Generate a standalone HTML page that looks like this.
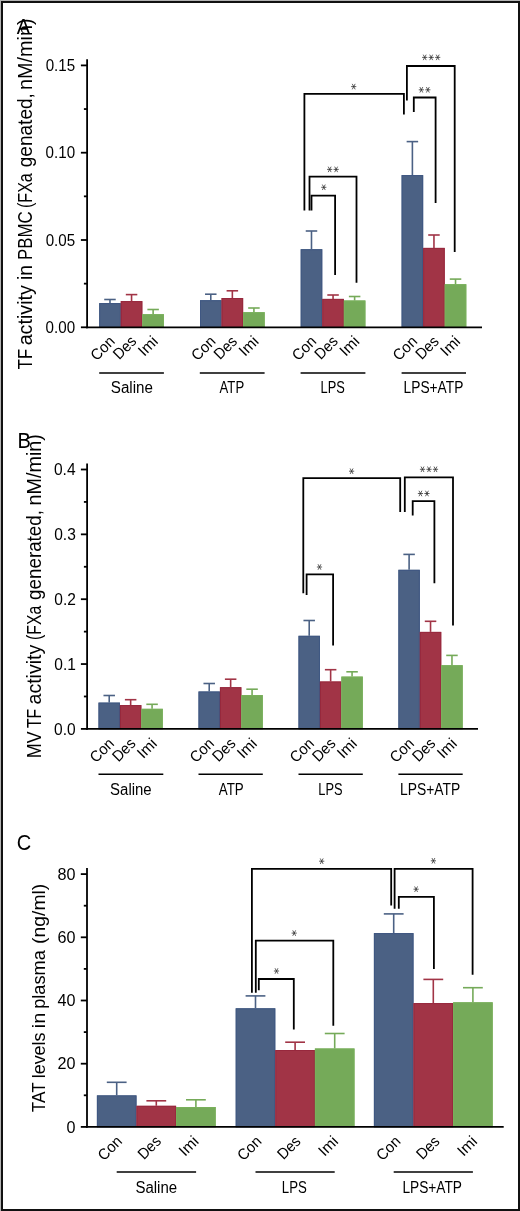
<!DOCTYPE html>
<html><head><meta charset="utf-8"><style>
html,body{margin:0;padding:0;background:#fff;}
body{width:520px;height:1211px;overflow:hidden;position:relative;}
svg{position:absolute;left:0;top:0;will-change:transform;}
text{font-family:"Liberation Sans", sans-serif;fill:#000;}

</style></head><body>
<svg width="520" height="1211" viewBox="0 0 520 1211">
<rect x="0" y="0" width="520" height="1" fill="#b4b4b4"/>
<rect x="0" y="0" width="1" height="1211" fill="#b4b4b4"/>
<rect x="2" y="2" width="517" height="1208" fill="none" stroke="#111" stroke-width="2"/>
<line x1="80.90" y1="327.30" x2="87.10" y2="327.30" stroke="#000" stroke-width="1.8"/>
<text x="45.60" y="332.90" font-size="15.7" text-anchor="start" textLength="29.49" lengthAdjust="spacingAndGlyphs">0.00</text>
<line x1="80.90" y1="240.00" x2="87.10" y2="240.00" stroke="#000" stroke-width="1.8"/>
<text x="45.65" y="245.60" font-size="15.7" text-anchor="start" textLength="29.49" lengthAdjust="spacingAndGlyphs">0.05</text>
<line x1="80.90" y1="152.70" x2="87.10" y2="152.70" stroke="#000" stroke-width="1.8"/>
<text x="45.60" y="158.30" font-size="15.7" text-anchor="start" textLength="29.49" lengthAdjust="spacingAndGlyphs">0.10</text>
<line x1="80.90" y1="65.40" x2="87.10" y2="65.40" stroke="#000" stroke-width="1.8"/>
<text x="45.65" y="71.00" font-size="15.7" text-anchor="start" textLength="29.49" lengthAdjust="spacingAndGlyphs">0.15</text>
<line x1="83.90" y1="283.65" x2="87.10" y2="283.65" stroke="#000" stroke-width="1.8"/>
<line x1="83.90" y1="196.35" x2="87.10" y2="196.35" stroke="#000" stroke-width="1.8"/>
<line x1="83.90" y1="109.05" x2="87.10" y2="109.05" stroke="#000" stroke-width="1.8"/>
<rect x="99.20" y="303.10" width="21.57" height="24.20" fill="#4b6184"/>
<rect x="99.70" y="303.60" width="20.57" height="23.70" fill="none" stroke="#3f5782" stroke-width="1"/>
<line x1="109.98" y1="299.50" x2="109.98" y2="303.10" stroke="#4b6184" stroke-width="1.6"/>
<line x1="104.23" y1="299.50" x2="115.73" y2="299.50" stroke="#4b6184" stroke-width="1.6"/>
<rect x="120.77" y="301.10" width="21.57" height="26.20" fill="#a13446"/>
<rect x="121.27" y="301.60" width="20.57" height="25.70" fill="none" stroke="#97283d" stroke-width="1"/>
<line x1="131.56" y1="294.60" x2="131.56" y2="301.10" stroke="#a13446" stroke-width="1.6"/>
<line x1="125.81" y1="294.60" x2="137.31" y2="294.60" stroke="#a13446" stroke-width="1.6"/>
<rect x="142.34" y="314.20" width="21.57" height="13.10" fill="#75aa59"/>
<rect x="142.84" y="314.70" width="20.57" height="12.60" fill="none" stroke="#79b05b" stroke-width="1"/>
<line x1="153.12" y1="309.50" x2="153.12" y2="314.20" stroke="#75aa59" stroke-width="1.6"/>
<line x1="147.38" y1="309.50" x2="158.88" y2="309.50" stroke="#75aa59" stroke-width="1.6"/>
<text x="115.78" y="342.30" font-size="15.5" text-anchor="end" textLength="27" lengthAdjust="spacingAndGlyphs" transform="rotate(-45 115.78 342.30)">Con</text>
<text x="137.36" y="342.30" font-size="15.5" text-anchor="end" textLength="25.5" lengthAdjust="spacingAndGlyphs" transform="rotate(-45 137.36 342.30)">Des</text>
<text x="158.93" y="342.30" font-size="15.5" text-anchor="end" textLength="20.8" lengthAdjust="spacingAndGlyphs" transform="rotate(-45 158.93 342.30)">Imi</text>
<line x1="99.20" y1="373.10" x2="163.90" y2="373.10" stroke="#000" stroke-width="1.5"/>
<text x="110.81" y="392.60" font-size="16" text-anchor="start" textLength="42.16" lengthAdjust="spacingAndGlyphs">Saline</text>
<rect x="200.00" y="300.20" width="21.57" height="27.10" fill="#4b6184"/>
<rect x="200.50" y="300.70" width="20.57" height="26.60" fill="none" stroke="#3f5782" stroke-width="1"/>
<line x1="210.78" y1="294.20" x2="210.78" y2="300.20" stroke="#4b6184" stroke-width="1.6"/>
<line x1="205.03" y1="294.20" x2="216.53" y2="294.20" stroke="#4b6184" stroke-width="1.6"/>
<rect x="221.57" y="298.00" width="21.57" height="29.30" fill="#a13446"/>
<rect x="222.07" y="298.50" width="20.57" height="28.80" fill="none" stroke="#97283d" stroke-width="1"/>
<line x1="232.35" y1="290.80" x2="232.35" y2="298.00" stroke="#a13446" stroke-width="1.6"/>
<line x1="226.60" y1="290.80" x2="238.10" y2="290.80" stroke="#a13446" stroke-width="1.6"/>
<rect x="243.14" y="312.20" width="21.57" height="15.10" fill="#75aa59"/>
<rect x="243.64" y="312.70" width="20.57" height="14.60" fill="none" stroke="#79b05b" stroke-width="1"/>
<line x1="253.92" y1="308.00" x2="253.92" y2="312.20" stroke="#75aa59" stroke-width="1.6"/>
<line x1="248.17" y1="308.00" x2="259.67" y2="308.00" stroke="#75aa59" stroke-width="1.6"/>
<text x="216.59" y="342.30" font-size="15.5" text-anchor="end" textLength="27" lengthAdjust="spacingAndGlyphs" transform="rotate(-45 216.59 342.30)">Con</text>
<text x="238.16" y="342.30" font-size="15.5" text-anchor="end" textLength="25.5" lengthAdjust="spacingAndGlyphs" transform="rotate(-45 238.16 342.30)">Des</text>
<text x="259.72" y="342.30" font-size="15.5" text-anchor="end" textLength="20.8" lengthAdjust="spacingAndGlyphs" transform="rotate(-45 259.72 342.30)">Imi</text>
<line x1="199.80" y1="373.10" x2="264.60" y2="373.10" stroke="#000" stroke-width="1.5"/>
<text x="219.58" y="392.60" font-size="16" text-anchor="start" textLength="24.59" lengthAdjust="spacingAndGlyphs">ATP</text>
<rect x="300.70" y="249.20" width="21.57" height="78.10" fill="#4b6184"/>
<rect x="301.20" y="249.70" width="20.57" height="77.60" fill="none" stroke="#3f5782" stroke-width="1"/>
<line x1="311.49" y1="231.00" x2="311.49" y2="249.20" stroke="#4b6184" stroke-width="1.6"/>
<line x1="305.74" y1="231.00" x2="317.24" y2="231.00" stroke="#4b6184" stroke-width="1.6"/>
<rect x="322.27" y="298.90" width="21.57" height="28.40" fill="#a13446"/>
<rect x="322.77" y="299.40" width="20.57" height="27.90" fill="none" stroke="#97283d" stroke-width="1"/>
<line x1="333.06" y1="295.00" x2="333.06" y2="298.90" stroke="#a13446" stroke-width="1.6"/>
<line x1="327.31" y1="295.00" x2="338.81" y2="295.00" stroke="#a13446" stroke-width="1.6"/>
<rect x="343.84" y="300.50" width="21.57" height="26.80" fill="#75aa59"/>
<rect x="344.34" y="301.00" width="20.57" height="26.30" fill="none" stroke="#79b05b" stroke-width="1"/>
<line x1="354.62" y1="296.50" x2="354.62" y2="300.50" stroke="#75aa59" stroke-width="1.6"/>
<line x1="348.88" y1="296.50" x2="360.38" y2="296.50" stroke="#75aa59" stroke-width="1.6"/>
<text x="317.29" y="342.30" font-size="15.5" text-anchor="end" textLength="27" lengthAdjust="spacingAndGlyphs" transform="rotate(-45 317.29 342.30)">Con</text>
<text x="338.86" y="342.30" font-size="15.5" text-anchor="end" textLength="25.5" lengthAdjust="spacingAndGlyphs" transform="rotate(-45 338.86 342.30)">Des</text>
<text x="360.43" y="342.30" font-size="15.5" text-anchor="end" textLength="20.8" lengthAdjust="spacingAndGlyphs" transform="rotate(-45 360.43 342.30)">Imi</text>
<line x1="300.60" y1="373.10" x2="365.40" y2="373.10" stroke="#000" stroke-width="1.5"/>
<text x="320.55" y="392.60" font-size="16" text-anchor="start" textLength="24.24" lengthAdjust="spacingAndGlyphs">LPS</text>
<rect x="401.60" y="175.10" width="21.57" height="152.20" fill="#4b6184"/>
<rect x="402.10" y="175.60" width="20.57" height="151.70" fill="none" stroke="#3f5782" stroke-width="1"/>
<line x1="412.39" y1="141.60" x2="412.39" y2="175.10" stroke="#4b6184" stroke-width="1.6"/>
<line x1="406.64" y1="141.60" x2="418.14" y2="141.60" stroke="#4b6184" stroke-width="1.6"/>
<rect x="423.17" y="247.90" width="21.57" height="79.40" fill="#a13446"/>
<rect x="423.67" y="248.40" width="20.57" height="78.90" fill="none" stroke="#97283d" stroke-width="1"/>
<line x1="433.96" y1="235.00" x2="433.96" y2="247.90" stroke="#a13446" stroke-width="1.6"/>
<line x1="428.21" y1="235.00" x2="439.71" y2="235.00" stroke="#a13446" stroke-width="1.6"/>
<rect x="444.74" y="284.20" width="21.57" height="43.10" fill="#75aa59"/>
<rect x="445.24" y="284.70" width="20.57" height="42.60" fill="none" stroke="#79b05b" stroke-width="1"/>
<line x1="455.53" y1="279.10" x2="455.53" y2="284.20" stroke="#75aa59" stroke-width="1.6"/>
<line x1="449.78" y1="279.10" x2="461.28" y2="279.10" stroke="#75aa59" stroke-width="1.6"/>
<text x="418.19" y="342.30" font-size="15.5" text-anchor="end" textLength="27" lengthAdjust="spacingAndGlyphs" transform="rotate(-45 418.19 342.30)">Con</text>
<text x="439.76" y="342.30" font-size="15.5" text-anchor="end" textLength="25.5" lengthAdjust="spacingAndGlyphs" transform="rotate(-45 439.76 342.30)">Des</text>
<text x="461.33" y="342.30" font-size="15.5" text-anchor="end" textLength="20.8" lengthAdjust="spacingAndGlyphs" transform="rotate(-45 461.33 342.30)">Imi</text>
<line x1="401.60" y1="373.10" x2="466.00" y2="373.10" stroke="#000" stroke-width="1.5"/>
<text x="403.59" y="392.60" font-size="16" text-anchor="start" textLength="59.72" lengthAdjust="spacingAndGlyphs">LPS+ATP</text>
<line x1="87.10" y1="59.20" x2="87.10" y2="328.20" stroke="#000" stroke-width="1.8"/>
<line x1="86.20" y1="327.30" x2="482.00" y2="327.30" stroke="#000" stroke-width="1.8"/>
<path d="M304.40,210.50L304.40,93.90L403.90,93.90L403.90,114.60" fill="none" stroke="#000" stroke-width="1.8"/>
<path d="M351.10,86.60L356.30,86.60M352.24,83.86L355.16,89.34M355.16,83.86L352.24,89.34" stroke="#2a2a2a" stroke-width="0.75" fill="none"/>
<path d="M309.50,210.50L309.50,176.60L356.50,176.60L356.50,282.80" fill="none" stroke="#000" stroke-width="1.8"/>
<path d="M327.05,169.40L332.25,169.40M328.19,166.66L331.11,172.14M331.11,166.66L328.19,172.14" stroke="#2a2a2a" stroke-width="0.75" fill="none"/>
<path d="M333.55,169.40L338.75,169.40M334.69,166.66L337.61,172.14M337.61,166.66L334.69,172.14" stroke="#2a2a2a" stroke-width="0.75" fill="none"/>
<path d="M311.50,210.50L311.50,195.60L335.10,195.60L335.10,274.90" fill="none" stroke="#000" stroke-width="1.8"/>
<path d="M321.20,187.30L326.40,187.30M322.34,184.56L325.26,190.04M325.26,184.56L322.34,190.04" stroke="#2a2a2a" stroke-width="0.75" fill="none"/>
<path d="M406.90,100.40L406.90,66.00L454.70,66.00L454.70,252.00" fill="none" stroke="#000" stroke-width="1.8"/>
<path d="M422.10,57.40L427.30,57.40M423.24,54.66L426.16,60.14M426.16,54.66L423.24,60.14" stroke="#2a2a2a" stroke-width="0.75" fill="none"/>
<path d="M428.60,57.40L433.80,57.40M429.74,54.66L432.66,60.14M432.66,54.66L429.74,60.14" stroke="#2a2a2a" stroke-width="0.75" fill="none"/>
<path d="M435.10,57.40L440.30,57.40M436.24,54.66L439.16,60.14M439.16,54.66L436.24,60.14" stroke="#2a2a2a" stroke-width="0.75" fill="none"/>
<path d="M413.80,111.90L413.80,97.50L435.60,97.50L435.60,203.00" fill="none" stroke="#000" stroke-width="1.8"/>
<path d="M418.75,89.80L423.95,89.80M419.89,87.06L422.81,92.54M422.81,87.06L419.89,92.54" stroke="#2a2a2a" stroke-width="0.75" fill="none"/>
<path d="M425.25,89.80L430.45,89.80M426.39,87.06L429.31,92.54M429.31,87.06L426.39,92.54" stroke="#2a2a2a" stroke-width="0.75" fill="none"/>
<g transform="rotate(-90)"><text x="-369.27" y="31.90" font-size="19.8" textLength="20.34" lengthAdjust="spacingAndGlyphs">TF</text><text x="-345.34" y="31.90" font-size="19.8" textLength="60.17" lengthAdjust="spacingAndGlyphs">activity</text><text x="-279.99" y="31.90" font-size="19.8" textLength="15.05" lengthAdjust="spacingAndGlyphs">in</text><text x="-260.08" y="31.90" font-size="19.8" textLength="48.73" lengthAdjust="spacingAndGlyphs">PBMC</text><text x="-207.99" y="31.90" font-size="19.8" textLength="34.74" lengthAdjust="spacingAndGlyphs">(FXa</text><text x="-167.30" y="31.90" font-size="19.8" textLength="74.21" lengthAdjust="spacingAndGlyphs">genated,</text><text x="-89.92" y="31.90" font-size="19.8" textLength="71.54" lengthAdjust="spacingAndGlyphs">nM/min)</text></g>
<text x="0" y="0" font-size="22.8" transform="translate(16.80 34.30) scale(0.88 1)">A</text>
<line x1="80.90" y1="728.90" x2="87.10" y2="728.90" stroke="#000" stroke-width="1.8"/>
<text x="54.10" y="734.50" font-size="15.7" text-anchor="start" textLength="21.61" lengthAdjust="spacingAndGlyphs">0.0</text>
<line x1="80.90" y1="664.05" x2="87.10" y2="664.05" stroke="#000" stroke-width="1.8"/>
<text x="54.25" y="669.65" font-size="15.7" text-anchor="start" textLength="21.61" lengthAdjust="spacingAndGlyphs">0.1</text>
<line x1="80.90" y1="599.20" x2="87.10" y2="599.20" stroke="#000" stroke-width="1.8"/>
<text x="54.27" y="604.80" font-size="15.7" text-anchor="start" textLength="21.61" lengthAdjust="spacingAndGlyphs">0.2</text>
<line x1="80.90" y1="534.35" x2="87.10" y2="534.35" stroke="#000" stroke-width="1.8"/>
<text x="54.18" y="539.95" font-size="15.7" text-anchor="start" textLength="21.61" lengthAdjust="spacingAndGlyphs">0.3</text>
<line x1="80.90" y1="469.50" x2="87.10" y2="469.50" stroke="#000" stroke-width="1.8"/>
<text x="53.95" y="475.10" font-size="15.7" text-anchor="start" textLength="21.61" lengthAdjust="spacingAndGlyphs">0.4</text>
<line x1="83.90" y1="696.48" x2="87.10" y2="696.48" stroke="#000" stroke-width="1.8"/>
<line x1="83.90" y1="631.62" x2="87.10" y2="631.62" stroke="#000" stroke-width="1.8"/>
<line x1="83.90" y1="566.77" x2="87.10" y2="566.77" stroke="#000" stroke-width="1.8"/>
<line x1="83.90" y1="501.93" x2="87.10" y2="501.93" stroke="#000" stroke-width="1.8"/>
<rect x="98.50" y="702.60" width="21.43" height="26.30" fill="#4b6184"/>
<rect x="99.00" y="703.10" width="20.43" height="25.80" fill="none" stroke="#3f5782" stroke-width="1"/>
<line x1="109.22" y1="695.50" x2="109.22" y2="702.60" stroke="#4b6184" stroke-width="1.6"/>
<line x1="103.47" y1="695.50" x2="114.97" y2="695.50" stroke="#4b6184" stroke-width="1.6"/>
<rect x="119.93" y="705.10" width="21.43" height="23.80" fill="#a13446"/>
<rect x="120.43" y="705.60" width="20.43" height="23.30" fill="none" stroke="#97283d" stroke-width="1"/>
<line x1="130.65" y1="699.70" x2="130.65" y2="705.10" stroke="#a13446" stroke-width="1.6"/>
<line x1="124.90" y1="699.70" x2="136.40" y2="699.70" stroke="#a13446" stroke-width="1.6"/>
<rect x="141.36" y="708.80" width="21.43" height="20.10" fill="#75aa59"/>
<rect x="141.86" y="709.30" width="20.43" height="19.60" fill="none" stroke="#79b05b" stroke-width="1"/>
<line x1="152.08" y1="704.30" x2="152.08" y2="708.80" stroke="#75aa59" stroke-width="1.6"/>
<line x1="146.33" y1="704.30" x2="157.83" y2="704.30" stroke="#75aa59" stroke-width="1.6"/>
<text x="115.12" y="744.50" font-size="15.5" text-anchor="end" textLength="27" lengthAdjust="spacingAndGlyphs" transform="rotate(-45 115.12 744.50)">Con</text>
<text x="136.55" y="744.50" font-size="15.5" text-anchor="end" textLength="25.5" lengthAdjust="spacingAndGlyphs" transform="rotate(-45 136.55 744.50)">Des</text>
<text x="157.98" y="744.50" font-size="15.5" text-anchor="end" textLength="20.8" lengthAdjust="spacingAndGlyphs" transform="rotate(-45 157.98 744.50)">Imi</text>
<line x1="98.50" y1="774.20" x2="163.30" y2="774.20" stroke="#000" stroke-width="1.5"/>
<text x="110.12" y="794.70" font-size="16" text-anchor="start" textLength="41.54" lengthAdjust="spacingAndGlyphs">Saline</text>
<rect x="198.50" y="691.50" width="21.43" height="37.40" fill="#4b6184"/>
<rect x="199.00" y="692.00" width="20.43" height="36.90" fill="none" stroke="#3f5782" stroke-width="1"/>
<line x1="209.22" y1="683.50" x2="209.22" y2="691.50" stroke="#4b6184" stroke-width="1.6"/>
<line x1="203.47" y1="683.50" x2="214.97" y2="683.50" stroke="#4b6184" stroke-width="1.6"/>
<rect x="219.93" y="687.20" width="21.43" height="41.70" fill="#a13446"/>
<rect x="220.43" y="687.70" width="20.43" height="41.20" fill="none" stroke="#97283d" stroke-width="1"/>
<line x1="230.65" y1="679.20" x2="230.65" y2="687.20" stroke="#a13446" stroke-width="1.6"/>
<line x1="224.90" y1="679.20" x2="236.40" y2="679.20" stroke="#a13446" stroke-width="1.6"/>
<rect x="241.36" y="695.10" width="21.43" height="33.80" fill="#75aa59"/>
<rect x="241.86" y="695.60" width="20.43" height="33.30" fill="none" stroke="#79b05b" stroke-width="1"/>
<line x1="252.08" y1="689.20" x2="252.08" y2="695.10" stroke="#75aa59" stroke-width="1.6"/>
<line x1="246.33" y1="689.20" x2="257.83" y2="689.20" stroke="#75aa59" stroke-width="1.6"/>
<text x="215.12" y="744.50" font-size="15.5" text-anchor="end" textLength="27" lengthAdjust="spacingAndGlyphs" transform="rotate(-45 215.12 744.50)">Con</text>
<text x="236.55" y="744.50" font-size="15.5" text-anchor="end" textLength="25.5" lengthAdjust="spacingAndGlyphs" transform="rotate(-45 236.55 744.50)">Des</text>
<text x="257.98" y="744.50" font-size="15.5" text-anchor="end" textLength="20.8" lengthAdjust="spacingAndGlyphs" transform="rotate(-45 257.98 744.50)">Imi</text>
<line x1="198.50" y1="774.20" x2="262.80" y2="774.20" stroke="#000" stroke-width="1.5"/>
<text x="218.77" y="794.70" font-size="16" text-anchor="start" textLength="25.00" lengthAdjust="spacingAndGlyphs">ATP</text>
<rect x="298.50" y="635.80" width="21.43" height="93.10" fill="#4b6184"/>
<rect x="299.00" y="636.30" width="20.43" height="92.60" fill="none" stroke="#3f5782" stroke-width="1"/>
<line x1="309.21" y1="620.50" x2="309.21" y2="635.80" stroke="#4b6184" stroke-width="1.6"/>
<line x1="303.46" y1="620.50" x2="314.96" y2="620.50" stroke="#4b6184" stroke-width="1.6"/>
<rect x="319.93" y="681.50" width="21.43" height="47.40" fill="#a13446"/>
<rect x="320.43" y="682.00" width="20.43" height="46.90" fill="none" stroke="#97283d" stroke-width="1"/>
<line x1="330.64" y1="669.70" x2="330.64" y2="681.50" stroke="#a13446" stroke-width="1.6"/>
<line x1="324.89" y1="669.70" x2="336.39" y2="669.70" stroke="#a13446" stroke-width="1.6"/>
<rect x="341.36" y="676.60" width="21.43" height="52.30" fill="#75aa59"/>
<rect x="341.86" y="677.10" width="20.43" height="51.80" fill="none" stroke="#79b05b" stroke-width="1"/>
<line x1="352.07" y1="671.80" x2="352.07" y2="676.60" stroke="#75aa59" stroke-width="1.6"/>
<line x1="346.32" y1="671.80" x2="357.82" y2="671.80" stroke="#75aa59" stroke-width="1.6"/>
<text x="315.11" y="744.50" font-size="15.5" text-anchor="end" textLength="27" lengthAdjust="spacingAndGlyphs" transform="rotate(-45 315.11 744.50)">Con</text>
<text x="336.54" y="744.50" font-size="15.5" text-anchor="end" textLength="25.5" lengthAdjust="spacingAndGlyphs" transform="rotate(-45 336.54 744.50)">Des</text>
<text x="357.97" y="744.50" font-size="15.5" text-anchor="end" textLength="20.8" lengthAdjust="spacingAndGlyphs" transform="rotate(-45 357.97 744.50)">Imi</text>
<line x1="298.50" y1="774.20" x2="362.80" y2="774.20" stroke="#000" stroke-width="1.5"/>
<text x="318.35" y="794.70" font-size="16" text-anchor="start" textLength="24.24" lengthAdjust="spacingAndGlyphs">LPS</text>
<rect x="398.40" y="569.80" width="21.43" height="159.10" fill="#4b6184"/>
<rect x="398.90" y="570.30" width="20.43" height="158.60" fill="none" stroke="#3f5782" stroke-width="1"/>
<line x1="409.11" y1="554.40" x2="409.11" y2="569.80" stroke="#4b6184" stroke-width="1.6"/>
<line x1="403.36" y1="554.40" x2="414.86" y2="554.40" stroke="#4b6184" stroke-width="1.6"/>
<rect x="419.83" y="631.90" width="21.43" height="97.00" fill="#a13446"/>
<rect x="420.33" y="632.40" width="20.43" height="96.50" fill="none" stroke="#97283d" stroke-width="1"/>
<line x1="430.54" y1="621.30" x2="430.54" y2="631.90" stroke="#a13446" stroke-width="1.6"/>
<line x1="424.79" y1="621.30" x2="436.29" y2="621.30" stroke="#a13446" stroke-width="1.6"/>
<rect x="441.26" y="665.20" width="21.43" height="63.70" fill="#75aa59"/>
<rect x="441.76" y="665.70" width="20.43" height="63.20" fill="none" stroke="#79b05b" stroke-width="1"/>
<line x1="451.97" y1="655.40" x2="451.97" y2="665.20" stroke="#75aa59" stroke-width="1.6"/>
<line x1="446.22" y1="655.40" x2="457.72" y2="655.40" stroke="#75aa59" stroke-width="1.6"/>
<text x="415.01" y="744.50" font-size="15.5" text-anchor="end" textLength="27" lengthAdjust="spacingAndGlyphs" transform="rotate(-45 415.01 744.50)">Con</text>
<text x="436.44" y="744.50" font-size="15.5" text-anchor="end" textLength="25.5" lengthAdjust="spacingAndGlyphs" transform="rotate(-45 436.44 744.50)">Des</text>
<text x="457.87" y="744.50" font-size="15.5" text-anchor="end" textLength="20.8" lengthAdjust="spacingAndGlyphs" transform="rotate(-45 457.87 744.50)">Imi</text>
<line x1="398.40" y1="774.20" x2="462.70" y2="774.20" stroke="#000" stroke-width="1.5"/>
<text x="400.08" y="794.70" font-size="16" text-anchor="start" textLength="60.13" lengthAdjust="spacingAndGlyphs">LPS+ATP</text>
<line x1="87.10" y1="463.50" x2="87.10" y2="729.80" stroke="#000" stroke-width="1.8"/>
<line x1="86.20" y1="728.90" x2="478.00" y2="728.90" stroke="#000" stroke-width="1.8"/>
<path d="M303.30,593.20L303.30,478.20L400.20,478.20L400.20,512.00" fill="none" stroke="#000" stroke-width="1.8"/>
<path d="M349.00,471.20L354.20,471.20M350.14,468.46L353.06,473.94M353.06,468.46L350.14,473.94" stroke="#2a2a2a" stroke-width="0.75" fill="none"/>
<path d="M306.60,594.90L306.60,574.40L333.10,574.40L333.10,645.40" fill="none" stroke="#000" stroke-width="1.8"/>
<path d="M316.90,567.00L322.10,567.00M318.04,564.26L320.96,569.74M320.96,564.26L318.04,569.74" stroke="#2a2a2a" stroke-width="0.75" fill="none"/>
<path d="M404.80,512.10L404.80,477.40L453.00,477.40L453.00,625.60" fill="none" stroke="#000" stroke-width="1.8"/>
<path d="M419.90,469.30L425.10,469.30M421.04,466.56L423.96,472.04M423.96,466.56L421.04,472.04" stroke="#2a2a2a" stroke-width="0.75" fill="none"/>
<path d="M426.40,469.30L431.60,469.30M427.54,466.56L430.46,472.04M430.46,466.56L427.54,472.04" stroke="#2a2a2a" stroke-width="0.75" fill="none"/>
<path d="M432.90,469.30L438.10,469.30M434.04,466.56L436.96,472.04M436.96,466.56L434.04,472.04" stroke="#2a2a2a" stroke-width="0.75" fill="none"/>
<path d="M412.70,515.40L412.70,501.10L434.40,501.10L434.40,583.30" fill="none" stroke="#000" stroke-width="1.8"/>
<path d="M417.85,493.50L423.05,493.50M418.99,490.76L421.91,496.24M421.91,490.76L418.99,496.24" stroke="#2a2a2a" stroke-width="0.75" fill="none"/>
<path d="M424.35,493.50L429.55,493.50M425.49,490.76L428.41,496.24M428.41,490.76L425.49,496.24" stroke="#2a2a2a" stroke-width="0.75" fill="none"/>
<g transform="rotate(-90)"><text x="-758.27" y="41.00" font-size="19.8" textLength="26.85" lengthAdjust="spacingAndGlyphs">MV</text><text x="-728.05" y="41.00" font-size="19.8" textLength="19.18" lengthAdjust="spacingAndGlyphs">TF</text><text x="-704.53" y="41.00" font-size="19.8" textLength="59.87" lengthAdjust="spacingAndGlyphs">activity</text><text x="-639.98" y="41.00" font-size="19.8" textLength="34.18" lengthAdjust="spacingAndGlyphs">(FXa</text><text x="-599.89" y="41.00" font-size="19.8" textLength="89.78" lengthAdjust="spacingAndGlyphs">generated,</text><text x="-505.51" y="41.00" font-size="19.8" textLength="71.34" lengthAdjust="spacingAndGlyphs">nM/min)</text></g>
<text x="0" y="0" font-size="22.8" transform="translate(17.50 448.20) scale(0.88 1)">B</text>
<line x1="80.80" y1="1126.90" x2="87.00" y2="1126.90" stroke="#000" stroke-width="1.8"/>
<text x="66.54" y="1132.50" font-size="15.7" text-anchor="start" textLength="8.99" lengthAdjust="spacingAndGlyphs">0</text>
<line x1="80.80" y1="1063.70" x2="87.00" y2="1063.70" stroke="#000" stroke-width="1.8"/>
<text x="57.54" y="1069.30" font-size="15.7" text-anchor="start" textLength="17.99" lengthAdjust="spacingAndGlyphs">20</text>
<line x1="80.80" y1="1000.50" x2="87.00" y2="1000.50" stroke="#000" stroke-width="1.8"/>
<text x="57.54" y="1006.10" font-size="15.7" text-anchor="start" textLength="17.99" lengthAdjust="spacingAndGlyphs">40</text>
<line x1="80.80" y1="937.30" x2="87.00" y2="937.30" stroke="#000" stroke-width="1.8"/>
<text x="57.54" y="942.90" font-size="15.7" text-anchor="start" textLength="17.99" lengthAdjust="spacingAndGlyphs">60</text>
<line x1="80.80" y1="874.10" x2="87.00" y2="874.10" stroke="#000" stroke-width="1.8"/>
<text x="57.54" y="879.70" font-size="15.7" text-anchor="start" textLength="17.99" lengthAdjust="spacingAndGlyphs">80</text>
<line x1="83.80" y1="1095.30" x2="87.00" y2="1095.30" stroke="#000" stroke-width="1.8"/>
<line x1="83.80" y1="1032.10" x2="87.00" y2="1032.10" stroke="#000" stroke-width="1.8"/>
<line x1="83.80" y1="968.90" x2="87.00" y2="968.90" stroke="#000" stroke-width="1.8"/>
<line x1="83.80" y1="905.70" x2="87.00" y2="905.70" stroke="#000" stroke-width="1.8"/>
<rect x="96.90" y="1095.40" width="39.60" height="31.50" fill="#4b6184"/>
<rect x="97.40" y="1095.90" width="38.60" height="31.00" fill="none" stroke="#3f5782" stroke-width="1"/>
<line x1="116.70" y1="1082.30" x2="116.70" y2="1095.40" stroke="#4b6184" stroke-width="1.6"/>
<line x1="106.80" y1="1082.30" x2="126.60" y2="1082.30" stroke="#4b6184" stroke-width="1.6"/>
<rect x="136.50" y="1105.80" width="39.60" height="21.10" fill="#a13446"/>
<rect x="137.00" y="1106.30" width="38.60" height="20.60" fill="none" stroke="#97283d" stroke-width="1"/>
<line x1="156.30" y1="1100.80" x2="156.30" y2="1105.80" stroke="#a13446" stroke-width="1.6"/>
<line x1="146.40" y1="1100.80" x2="166.20" y2="1100.80" stroke="#a13446" stroke-width="1.6"/>
<rect x="176.10" y="1107.00" width="39.60" height="19.90" fill="#75aa59"/>
<rect x="176.60" y="1107.50" width="38.60" height="19.40" fill="none" stroke="#79b05b" stroke-width="1"/>
<line x1="195.90" y1="1099.80" x2="195.90" y2="1107.00" stroke="#75aa59" stroke-width="1.6"/>
<line x1="186.00" y1="1099.80" x2="205.80" y2="1099.80" stroke="#75aa59" stroke-width="1.6"/>
<text x="123.00" y="1142.30" font-size="15.5" text-anchor="end" textLength="27" lengthAdjust="spacingAndGlyphs" transform="rotate(-45 123.00 1142.30)">Con</text>
<text x="162.00" y="1142.30" font-size="15.5" text-anchor="end" textLength="25.5" lengthAdjust="spacingAndGlyphs" transform="rotate(-45 162.00 1142.30)">Des</text>
<text x="199.60" y="1142.30" font-size="15.5" text-anchor="end" textLength="20.8" lengthAdjust="spacingAndGlyphs" transform="rotate(-45 199.60 1142.30)">Imi</text>
<line x1="116.70" y1="1172.00" x2="196.10" y2="1172.00" stroke="#000" stroke-width="1.5"/>
<text x="135.42" y="1192.90" font-size="16" text-anchor="start" textLength="41.75" lengthAdjust="spacingAndGlyphs">Saline</text>
<rect x="235.70" y="1008.30" width="39.60" height="118.60" fill="#4b6184"/>
<rect x="236.20" y="1008.80" width="38.60" height="118.10" fill="none" stroke="#3f5782" stroke-width="1"/>
<line x1="255.50" y1="995.90" x2="255.50" y2="1008.30" stroke="#4b6184" stroke-width="1.6"/>
<line x1="245.60" y1="995.90" x2="265.40" y2="995.90" stroke="#4b6184" stroke-width="1.6"/>
<rect x="275.30" y="1050.00" width="39.60" height="76.90" fill="#a13446"/>
<rect x="275.80" y="1050.50" width="38.60" height="76.40" fill="none" stroke="#97283d" stroke-width="1"/>
<line x1="295.10" y1="1042.20" x2="295.10" y2="1050.00" stroke="#a13446" stroke-width="1.6"/>
<line x1="285.20" y1="1042.20" x2="305.00" y2="1042.20" stroke="#a13446" stroke-width="1.6"/>
<rect x="314.90" y="1048.50" width="39.60" height="78.40" fill="#75aa59"/>
<rect x="315.40" y="1049.00" width="38.60" height="77.90" fill="none" stroke="#79b05b" stroke-width="1"/>
<line x1="334.70" y1="1033.50" x2="334.70" y2="1048.50" stroke="#75aa59" stroke-width="1.6"/>
<line x1="324.80" y1="1033.50" x2="344.60" y2="1033.50" stroke="#75aa59" stroke-width="1.6"/>
<text x="262.60" y="1142.30" font-size="15.5" text-anchor="end" textLength="27" lengthAdjust="spacingAndGlyphs" transform="rotate(-45 262.60 1142.30)">Con</text>
<text x="301.60" y="1142.30" font-size="15.5" text-anchor="end" textLength="25.5" lengthAdjust="spacingAndGlyphs" transform="rotate(-45 301.60 1142.30)">Des</text>
<text x="339.20" y="1142.30" font-size="15.5" text-anchor="end" textLength="20.8" lengthAdjust="spacingAndGlyphs" transform="rotate(-45 339.20 1142.30)">Imi</text>
<line x1="255.50" y1="1172.00" x2="334.70" y2="1172.00" stroke="#000" stroke-width="1.5"/>
<text x="281.82" y="1192.90" font-size="16" text-anchor="start" textLength="24.99" lengthAdjust="spacingAndGlyphs">LPS</text>
<rect x="373.90" y="933.10" width="39.60" height="193.80" fill="#4b6184"/>
<rect x="374.40" y="933.60" width="38.60" height="193.30" fill="none" stroke="#3f5782" stroke-width="1"/>
<line x1="393.70" y1="913.90" x2="393.70" y2="933.10" stroke="#4b6184" stroke-width="1.6"/>
<line x1="383.80" y1="913.90" x2="403.60" y2="913.90" stroke="#4b6184" stroke-width="1.6"/>
<rect x="413.50" y="1003.10" width="39.60" height="123.80" fill="#a13446"/>
<rect x="414.00" y="1003.60" width="38.60" height="123.30" fill="none" stroke="#97283d" stroke-width="1"/>
<line x1="433.30" y1="979.40" x2="433.30" y2="1003.10" stroke="#a13446" stroke-width="1.6"/>
<line x1="423.40" y1="979.40" x2="443.20" y2="979.40" stroke="#a13446" stroke-width="1.6"/>
<rect x="453.10" y="1002.30" width="39.60" height="124.60" fill="#75aa59"/>
<rect x="453.60" y="1002.80" width="38.60" height="124.10" fill="none" stroke="#79b05b" stroke-width="1"/>
<line x1="472.90" y1="987.70" x2="472.90" y2="1002.30" stroke="#75aa59" stroke-width="1.6"/>
<line x1="463.00" y1="987.70" x2="482.80" y2="987.70" stroke="#75aa59" stroke-width="1.6"/>
<text x="401.60" y="1142.30" font-size="15.5" text-anchor="end" textLength="27" lengthAdjust="spacingAndGlyphs" transform="rotate(-45 401.60 1142.30)">Con</text>
<text x="440.60" y="1142.30" font-size="15.5" text-anchor="end" textLength="25.5" lengthAdjust="spacingAndGlyphs" transform="rotate(-45 440.60 1142.30)">Des</text>
<text x="478.20" y="1142.30" font-size="15.5" text-anchor="end" textLength="20.8" lengthAdjust="spacingAndGlyphs" transform="rotate(-45 478.20 1142.30)">Imi</text>
<line x1="393.70" y1="1172.00" x2="472.90" y2="1172.00" stroke="#000" stroke-width="1.5"/>
<text x="402.39" y="1192.90" font-size="16" text-anchor="start" textLength="59.62" lengthAdjust="spacingAndGlyphs">LPS+ATP</text>
<line x1="87.00" y1="868.10" x2="87.00" y2="1127.80" stroke="#000" stroke-width="1.8"/>
<line x1="86.10" y1="1126.90" x2="503.70" y2="1126.90" stroke="#000" stroke-width="1.8"/>
<path d="M251.90,992.70L251.90,868.90L391.20,868.90L391.20,905.40" fill="none" stroke="#000" stroke-width="1.8"/>
<path d="M319.10,861.20L324.30,861.20M320.24,858.46L323.16,863.94M323.16,858.46L320.24,863.94" stroke="#2a2a2a" stroke-width="0.75" fill="none"/>
<path d="M255.80,992.70L255.80,940.60L333.30,940.60L333.30,1025.80" fill="none" stroke="#000" stroke-width="1.8"/>
<path d="M291.60,933.10L296.80,933.10M292.74,930.36L295.66,935.84M295.66,930.36L292.74,935.84" stroke="#2a2a2a" stroke-width="0.75" fill="none"/>
<path d="M258.80,990.20L258.80,979.00L293.80,979.00L293.80,1029.60" fill="none" stroke="#000" stroke-width="1.8"/>
<path d="M273.90,971.00L279.10,971.00M275.04,968.26L277.96,973.74M277.96,968.26L275.04,973.74" stroke="#2a2a2a" stroke-width="0.75" fill="none"/>
<path d="M394.60,908.80L394.60,868.90L472.60,868.90L472.60,974.80" fill="none" stroke="#000" stroke-width="1.8"/>
<path d="M430.80,860.80L436.00,860.80M431.94,858.06L434.86,863.54M434.86,858.06L431.94,863.54" stroke="#2a2a2a" stroke-width="0.75" fill="none"/>
<path d="M398.80,908.80L398.80,896.80L433.90,896.80L433.90,968.90" fill="none" stroke="#000" stroke-width="1.8"/>
<path d="M413.50,889.20L418.70,889.20M414.64,886.46L417.56,891.94M417.56,886.46L414.64,891.94" stroke="#2a2a2a" stroke-width="0.75" fill="none"/>
<g transform="rotate(-90)"><text x="-1112.26" y="45.20" font-size="19.2" textLength="29.92" lengthAdjust="spacingAndGlyphs">TAT</text><text x="-1078.31" y="45.20" font-size="19.2" textLength="45.75" lengthAdjust="spacingAndGlyphs">levels</text><text x="-1028.15" y="45.20" font-size="19.2" textLength="15.65" lengthAdjust="spacingAndGlyphs">in</text><text x="-1008.77" y="45.20" font-size="19.2" textLength="58.57" lengthAdjust="spacingAndGlyphs">plasma</text><text x="-943.90" y="45.20" font-size="19.2" textLength="60.10" lengthAdjust="spacingAndGlyphs">(ng/ml)</text></g>
<text x="0" y="0" font-size="22.8" transform="translate(16.80 849.80) scale(0.88 1)">C</text>
</svg>
</body></html>
